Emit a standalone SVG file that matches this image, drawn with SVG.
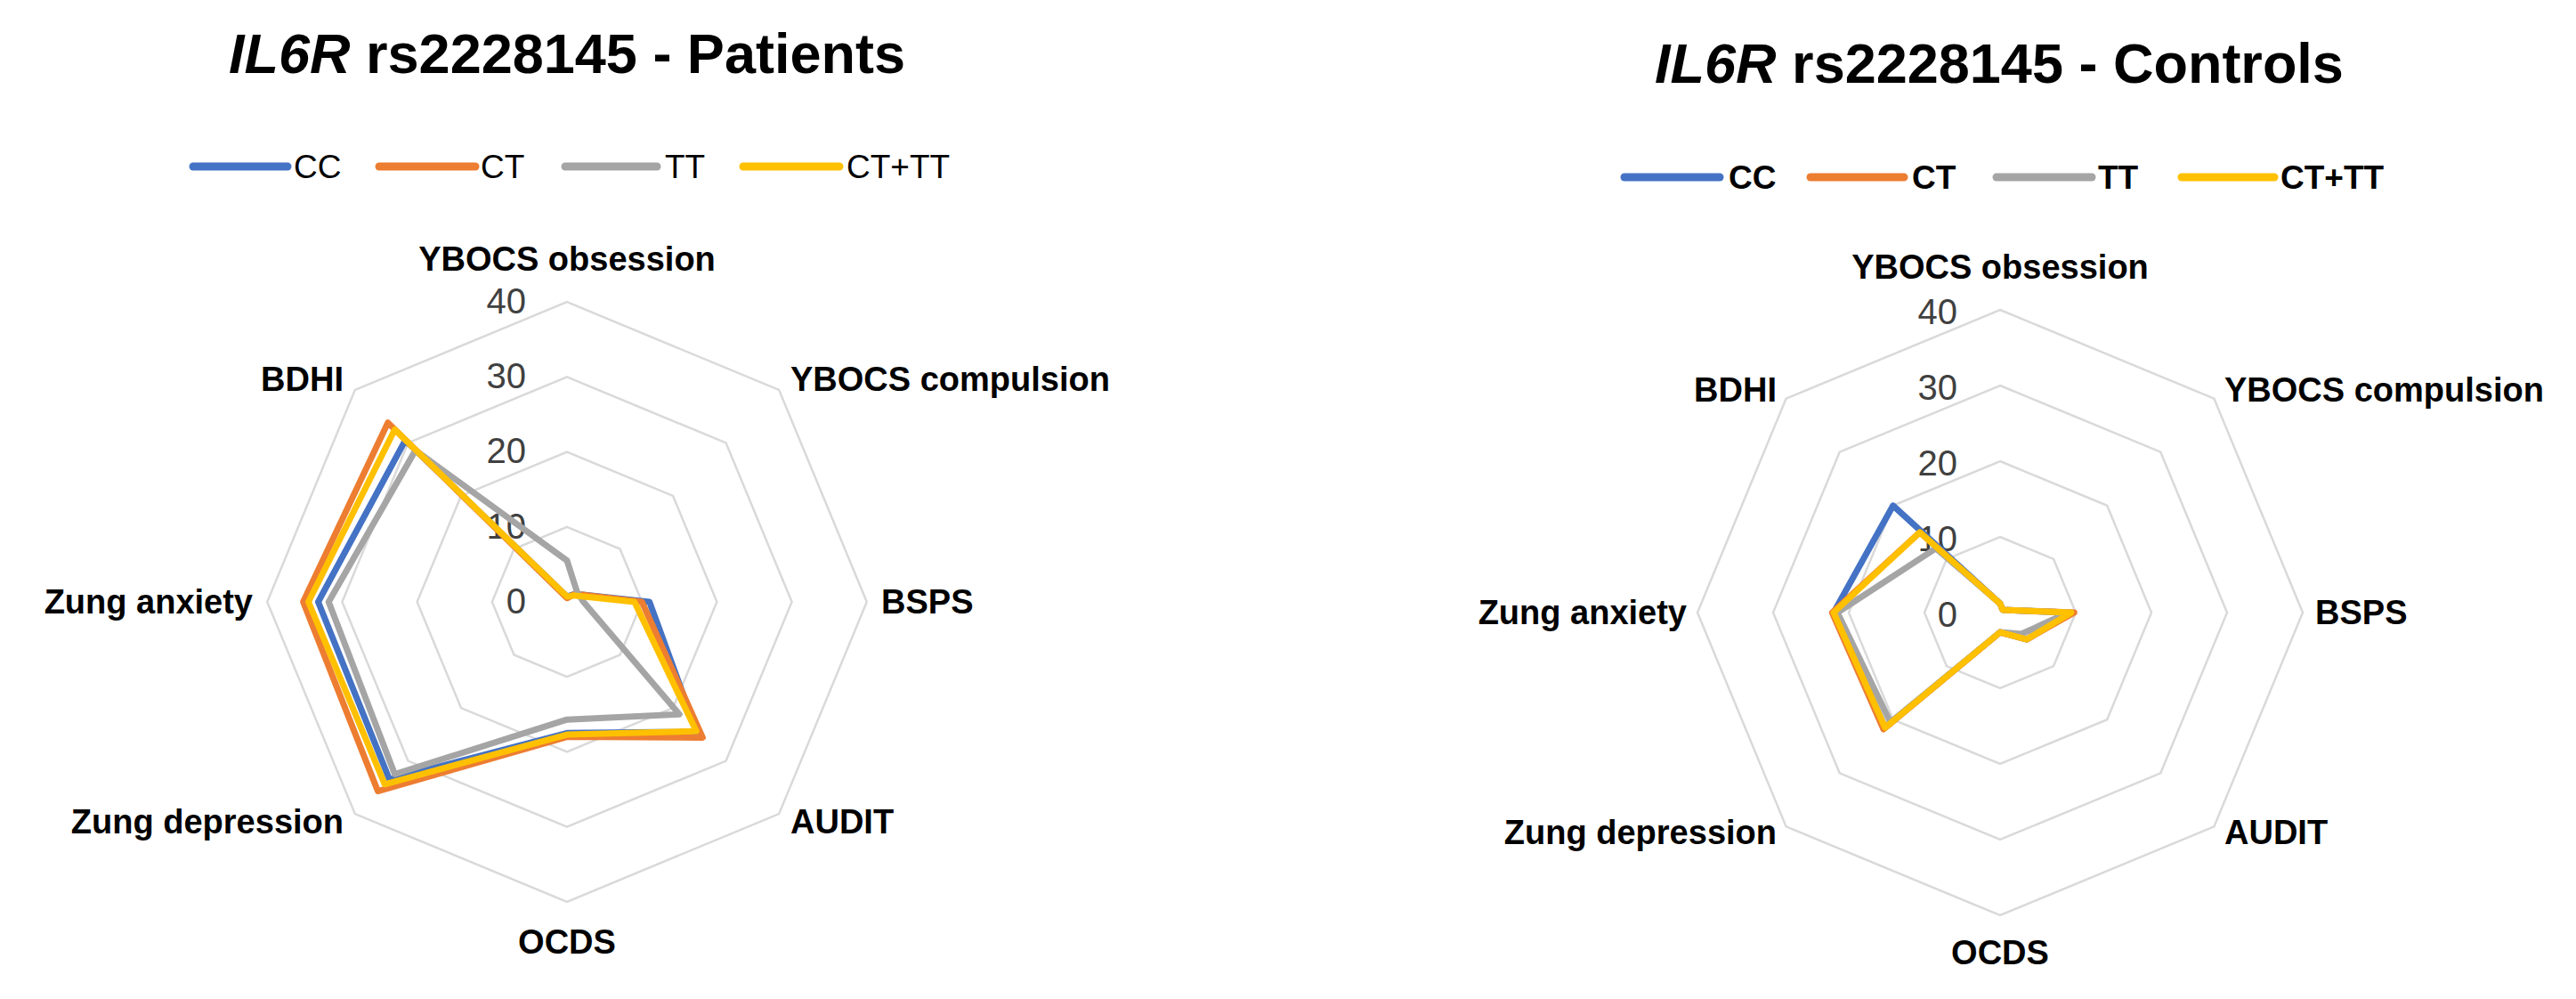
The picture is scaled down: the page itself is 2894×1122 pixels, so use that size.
<svg xmlns="http://www.w3.org/2000/svg" width="2894" height="1122" viewBox="0 0 2894 1122">
<style>
text{font-family:"Liberation Sans",Arial,sans-serif;fill:#000}
.title{font-size:63px;font-weight:bold;text-anchor:middle}
.leg{font-size:37px}
.legb{font-size:37px;font-weight:bold}
.lab{font-size:38px;font-weight:bold}
.tick{font-size:40px;fill:#404040;text-anchor:end}
.ring{fill:none;stroke:#d9d9d9;stroke-width:2.5;vector-effect:non-scaling-stroke}
.s{fill:none;stroke-width:7;stroke-linejoin:round;vector-effect:non-scaling-stroke}
.ll{stroke-width:9;stroke-linecap:round}
.cc{stroke:#4472C4}.ct{stroke:#ED7D31}.tt{stroke:#A5A5A5}.ctt{stroke:#FFC000}
</style>
<defs>
<g id="rings">
<polygon class="ring" points="0,-10 7.07,-7.07 10,0 7.07,7.07 0,10 -7.07,7.07 -10,0 -7.07,-7.07"/>
<polygon class="ring" points="0,-20 14.14,-14.14 20,0 14.14,14.14 0,20 -14.14,14.14 -20,0 -14.14,-14.14"/>
<polygon class="ring" points="0,-30 21.21,-21.21 30,0 21.21,21.21 0,30 -21.21,21.21 -30,0 -21.21,-21.21"/>
<polygon class="ring" points="0,-40 28.28,-28.28 40,0 28.28,28.28 0,40 -28.28,28.28 -40,0 -28.28,-28.28"/>
</g>
</defs>

<g id="patients">
<text class="title" x="637" y="82"><tspan font-style="italic">IL6R</tspan> rs2228145 - Patients</text>
<g id="legend-left">
<line class="ll cc" x1="217" y1="187" x2="323" y2="187"/><text class="leg" x="330" y="200">CC</text>
<line class="ll ct" x1="426" y1="187" x2="534" y2="187"/><text class="leg" x="540" y="200">CT</text>
<line class="ll tt" x1="635" y1="187" x2="738" y2="187"/><text class="leg" x="747" y="200">TT</text>
<line class="ll ctt" x1="835" y1="187" x2="943" y2="187"/><text class="leg" x="951" y="200">CT+TT</text>
</g>
<g transform="translate(637,676) scale(8.42)"><use href="#rings"/></g>
<g id="ticks-left">
<text class="tick" x="591" y="352">40</text><text class="tick" x="591" y="436">30</text><text class="tick" x="591" y="520">20</text><text class="tick" x="591" y="605">10</text><text class="tick" x="591" y="689">0</text>
</g>
<g id="labels-left">
<text class="lab" x="637" y="304" text-anchor="middle">YBOCS obsession</text>
<text class="lab" x="888" y="439">YBOCS compulsion</text>
<text class="lab" x="990" y="689">BSPS</text>
<text class="lab" x="888" y="936">AUDIT</text>
<text class="lab" x="637" y="1071" text-anchor="middle">OCDS</text>
<text class="lab" x="386" y="936" text-anchor="end">Zung depression</text>
<text class="lab" x="284" y="689" text-anchor="end">Zung anxiety</text>
<text class="lab" x="386" y="439" text-anchor="end">BDHI</text>
</g>
<g id="series-left" transform="translate(637,676) scale(8.42)">
<polygon class="s cc" points="0,-0.7 1.06,-1.06 11,0 17.32,17.32 0,17.5 -23.69,23.69 -33.2,0 -21.57,-21.57"/>
<polygon class="s ct" points="0,-0.5 1.06,-1.06 10,0 18.1,18.1 0,18 -25.24,25.24 -35.2,0 -23.9,-23.9"/>
<polygon class="s tt" points="0,-5.5 1.34,-1.34 2.2,0 14.99,14.99 0,15.7 -22.98,22.98 -31.8,0 -20.22,-20.22"/>
<polygon class="s ctt" points="0,-0.7 0.85,-0.85 9,0 17.25,17.25 0,17.7 -24.32,24.32 -34.5,0 -22.98,-22.98"/>
</g>
</g>

<g id="controls">
<text class="title" x="2246" y="93"><tspan font-style="italic">IL6R</tspan> rs2228145 - Controls</text>
<g id="legend-right">
<line class="ll cc" x1="1825" y1="199" x2="1932" y2="199"/><text class="legb" x="1942" y="212">CC</text>
<line class="ll ct" x1="2034" y1="199" x2="2139" y2="199"/><text class="legb" x="2148" y="212">CT</text>
<line class="ll tt" x1="2243" y1="199" x2="2350" y2="199"/><text class="legb" x="2357" y="212">TT</text>
<line class="ll ctt" x1="2451" y1="199" x2="2555" y2="199"/><text class="legb" x="2562" y="212">CT+TT</text>
</g>
<g transform="translate(2247,688) scale(8.5)"><use href="#rings"/></g>
<g id="ticks-right">
<text class="tick" x="2199" y="364">40</text><text class="tick" x="2199" y="449">30</text><text class="tick" x="2199" y="534">20</text><text class="tick" x="2199" y="619">10</text><text class="tick" x="2199" y="704">0</text>
</g>
<g id="labels-right">
<text class="lab" x="2247" y="313" text-anchor="middle">YBOCS obsession</text>
<text class="lab" x="2499" y="451">YBOCS compulsion</text>
<text class="lab" x="2601" y="701">BSPS</text>
<text class="lab" x="2499" y="948">AUDIT</text>
<text class="lab" x="2247" y="1083" text-anchor="middle">OCDS</text>
<text class="lab" x="1996" y="948" text-anchor="end">Zung depression</text>
<text class="lab" x="1895" y="701" text-anchor="end">Zung anxiety</text>
<text class="lab" x="1996" y="451" text-anchor="end">BDHI</text>
</g>
<g id="series-right" transform="translate(2247,688) scale(8.5)">
<polygon class="s cc" points="0,-1.2 0.35,-0.35 9.4,0 3.54,3.54 0,2.6 -15.2,15.2 -22,0 -14.14,-14.14"/>
<polygon class="s ct" points="0,-1.2 0.35,-0.35 9.8,0 3.54,3.54 0,2.6 -15.41,15.41 -22.2,0 -10.61,-10.61"/>
<polygon class="s tt" points="0,-1.2 0.35,-0.35 9,0 2.83,2.83 0,2.6 -14.5,14.5 -21.5,0 -8.49,-8.49"/>
<polygon class="s ctt" points="0,-1.2 0.35,-0.35 9.4,0 3.54,3.54 0,2.6 -15.2,15.2 -22,0 -10.61,-10.61"/>
</g>
</g>
</svg>
